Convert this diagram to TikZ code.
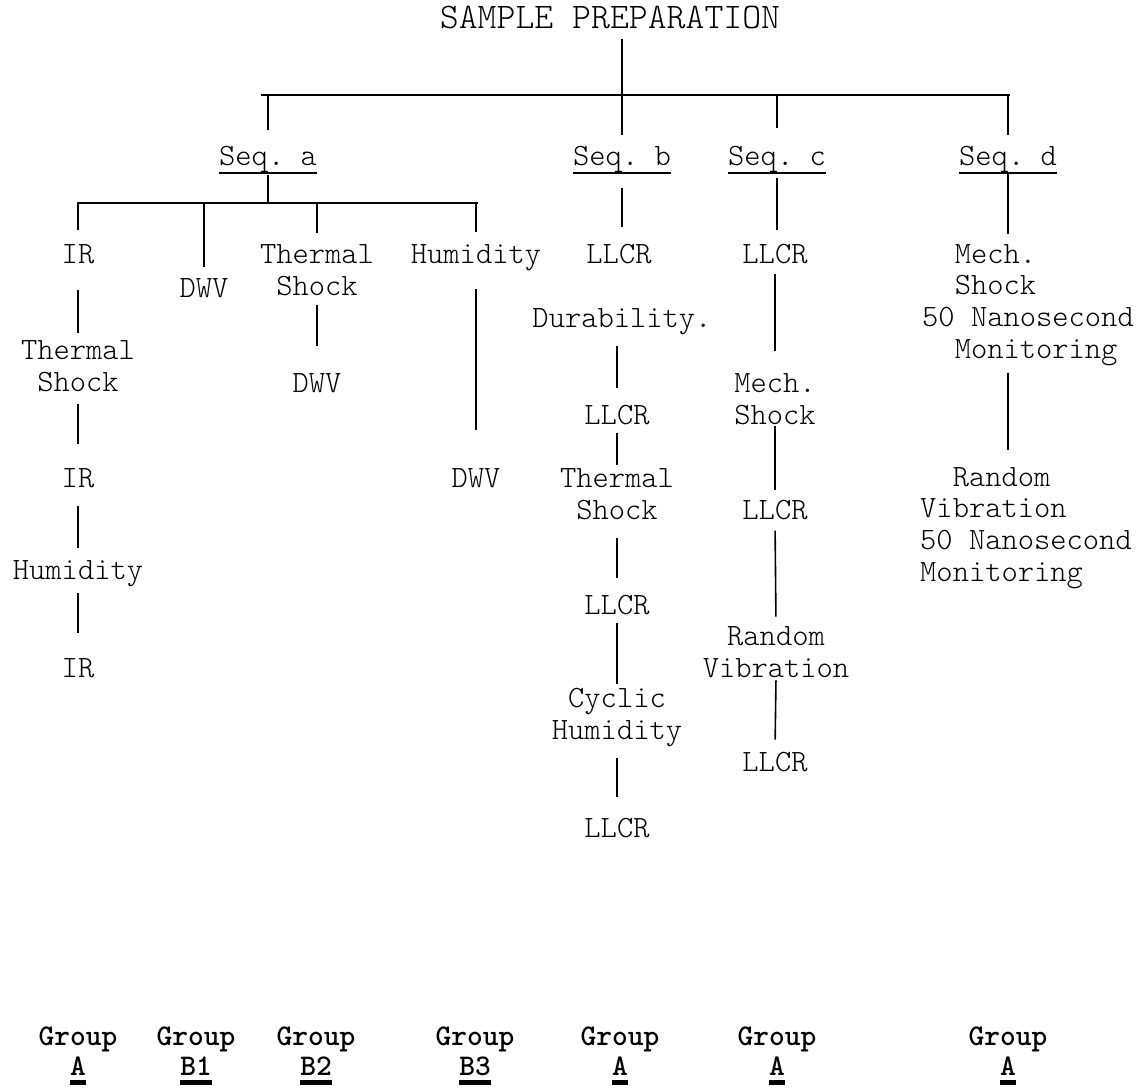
\documentclass[tikz,border=0pt]{standalone}
\usepackage{fontspec}
\setmonofont{lmmonolt10-regular.otf}[BoldFont=lmmonolt10-bold.otf]
\newcommand{\ulseq}[1]{\setbox0=\hbox{#1}\rlap{\rule[-8.5pt]{\wd0}{2pt}}\box0}
\newcommand{\ulgrp}[1]{\setbox0=\hbox{#1}\rlap{\rule[-10pt]{\wd0}{5pt}}\box0}
\begin{document}
\begin{tikzpicture}[x=1pt,y=-1pt,
    every node/.style={inner sep=0pt},
    lbl/.style={font=\ttfamily\fontsize{31}{31.7}\selectfont, align=center, anchor=base},
    blk/.style={font=\ttfamily\fontsize{31}{31.7}\selectfont, align=left, anchor=base west},
    grp/.style={font=\ttfamily\bfseries\fontsize{30}{30}\selectfont, align=center, anchor=base},
    link/.style={line width=1.6pt},
    bar/.style={line width=2.2pt}]
    \useasboundingbox (0,0) rectangle (1146,1088);

    \node[lbl, font=\ttfamily\fontsize{36}{40}\selectfont] (title) at (610,28) {SAMPLE PREPARATION};

    \node[lbl] (seqA) at (268,165) {\ulseq{Seq. a}};
    \node[lbl] (seqB) at (622,165) {\ulseq{Seq. b}};
    \node[lbl] (seqC) at (777,165) {\ulseq{Seq. c}};
    \node[lbl] (seqD) at (1008,165) {\ulseq{Seq. d}};

    % sequence a
    \node[lbl] (irA) at (78,263) {IR};
    \node[lbl] (dwvB) at (204,297) {DWV};
    \node[lbl] (tsC) at (317,295) {Thermal\\Shock};
    \node[lbl] (humA) at (476,263) {Humidity};
    \node[lbl] (tsA) at (78,391) {Thermal\\Shock};
    \node[lbl] (irB) at (78,487) {IR};
    \node[lbl] (humB) at (78,579) {Humidity};
    \node[lbl] (irC) at (78,677) {IR};
    \node[lbl] (dwvC) at (317,392) {DWV};
    \node[lbl] (dwvD) at (476,487) {DWV};

    % sequence b
    \node[lbl] (llcrB1) at (619,263) {LLCR};
    \node[lbl] (durB) at (622,327) {Durability.};
    \node[lbl] (llcrB2) at (617,424) {LLCR};
    \node[lbl] (tsB) at (617,519) {Thermal\\Shock};
    \node[lbl] (llcrB3) at (617,614) {LLCR};
    \node[lbl] (chB) at (617,739) {Cyclic\\Humidity};
    \node[lbl] (llcrB4) at (617,837) {LLCR};

    % sequence c
    \node[lbl] (llcrC1) at (775,263) {LLCR};
    \node[lbl] (msC) at (775,424) {Mech.\\Shock};
    \node[lbl] (llcrC2) at (775,519) {LLCR};
    \node[lbl] (rvC) at (776,677) {Random\\Vibration};
    \node[lbl] (llcrC3) at (775,771) {LLCR};

    % sequence d
    \node[blk] (mechD) at (922,358.1) {\phantom{Me}Mech.\\\phantom{Me}Shock\\50 Nanosecond\\\phantom{Me}Monitoring};
    \node[blk] (rvD) at (920,581.1) {\phantom{Ra}Random\\Vibration\\50 Nanosecond\\Monitoring};

    % groups
    \foreach \gx/\gl [count=\gi] in {78/A,196/B1,316/B2,475/B3,620/A,777/A,1008/A}
        \node[grp] (grp\gi) at (\gx,1075) {Group\\\ulgrp{\gl}};

    % bars
    \coordinate (barTopL) at (261,95);
    \coordinate (barTopR) at (1010,95);
    \coordinate (barAL) at (77,203);
    \coordinate (barAR) at (478,203);
    \draw[bar] (barTopL) -- (barTopR);
    \draw[bar] (barAL) -- (barAR);

    \draw[link, shorten <=10pt, shorten >=10.5pt] (title.south -| seqB.north) -- (seqB.north);
    \draw[link, shorten >=16pt] (seqA.north |- barTopL) -- (seqA.north);
    \draw[link, shorten >=18pt] (seqC.north |- barTopL) -- (seqC.north);
    \draw[link, shorten >=10.5pt] (seqD.north |- barTopL) -- (seqD.north);

    \draw[link, shorten <=1pt] (seqA.south) -- (seqA.south |- barAL);
    \draw[link, shorten >=14pt] (irA.north |- barAL) -- (irA.north);
    \draw[link, shorten >=11pt] (dwvB.north |- barAL) -- (dwvB.north);
    \draw[link, shorten >=11.5pt] (tsC.north |- barAL) -- (tsC.north);
    \draw[link, shorten >=11.5pt] (humA.north |- barAL) -- (humA.north);

    \draw[link, shorten <=26pt, shorten >=7.5pt] (irA.south) -- (tsA.north);
    \draw[link, shorten <=12pt, shorten >=24pt] (tsA.south) -- (irB.north);
    \draw[link, shorten <=18pt, shorten >=11.5pt] (irB.south) -- (humB.north);
    \draw[link, shorten <=6pt, shorten >=25pt] (humB.south) -- (irC.north);
    \draw[link, shorten <=9pt, shorten >=27pt] (tsC.south) -- (dwvC.north);
    \draw[link, shorten <=18pt, shorten >=38pt] (humA.south) -- (dwvD.north);

    \draw[link, shorten <=14pt, shorten >=17pt] (seqB.south) -- (seqB.south |- llcrB1.north);
    \draw[link, shorten <=11pt, shorten >=17pt] (llcrB2.north |- durB.south) -- (llcrB2.north);
    \draw[link, shorten <=8pt, shorten >=3.5pt] (llcrB2.south) -- (tsB.north);
    \draw[link, shorten <=18pt, shorten >=17pt] (tsB.south) -- (llcrB3.north);
    \draw[link, shorten <=8pt, shorten >=3.5pt] (llcrB3.south) -- (chB.north);
    \draw[link, shorten <=11pt, shorten >=21pt] (chB.south) -- (llcrB4.north);

    \draw[link, shorten <=4pt, shorten >=14pt] (seqC.south) -- (seqC.south |- llcrC1.north);
    \draw[link, shorten <=10pt, shorten >=22.5pt] (llcrC1.south) -- (msC.north);
    \draw[link, shorten <=1pt, shorten >=10pt] (msC.south) -- (llcrC2.north);
    \draw[link, shorten <=11pt, shorten >=9.5pt] (llcrC2.south) -- (rvC.north);
    \draw[link, shorten <=3pt, shorten >=12pt] (rvC.south) -- (llcrC3.north);

    \draw[link, shorten >=9.5pt] (seqD.south) -- (seqD.south |- mechD.north);
    \draw[link, shorten <=7pt, shorten >=16.5pt] (seqD.south |- mechD.south) -- (seqD.south |- rvD.north);
\end{tikzpicture}
\end{document}
